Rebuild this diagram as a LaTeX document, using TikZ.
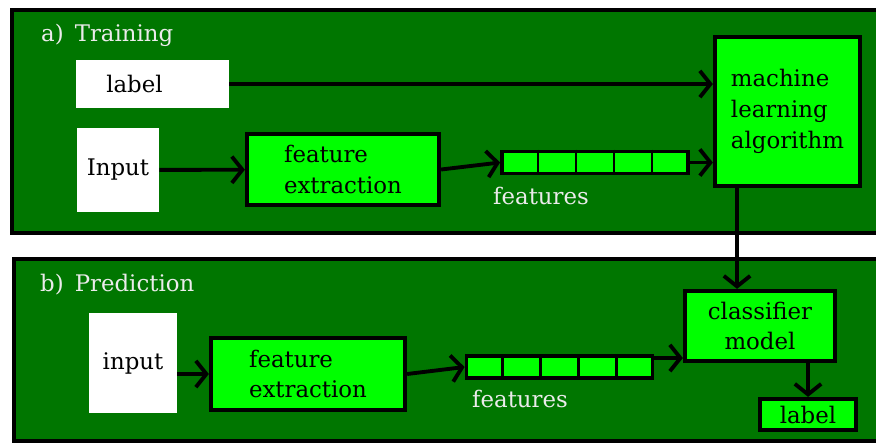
\documentclass[tikz,border=0pt]{standalone}
\usepackage{fontspec}
\setmainfont{DejaVu Serif}
\usetikzlibrary{arrows.meta,calc}

\definecolor{panelgreen}{RGB}{0,118,0}
\definecolor{boxgreen}{RGB}{0,255,0}

\tikzset{
  panel/.style={draw=black, line width=2pt, fill=panelgreen},
  title/.style={text=white!92!black, anchor=west, font=\fontsize{13}{16}\selectfont},
  whitebox/.style={fill=white, inner sep=0pt, font=\fontsize{13}{16}\selectfont},
  greenbox/.style={draw=black, line width=2.4pt, fill=boxgreen, inner sep=0pt,
    font=\fontsize{13}{17.5}\selectfont},
  featbar/.style={draw=black, line width=2.2pt, fill=boxgreen, inner sep=0pt,
    minimum width=3.72cm, minimum height=0.44cm},
  cell/.style={line width=1.6pt},
  featname/.style={text=white!92!black, font=\fontsize{13}{16}\selectfont},
  arr/.style={-{Straight Barb[length=6pt,width=15pt]}, line width=2.2pt},
}

\begin{document}
\begin{tikzpicture}
  \useasboundingbox (0,0) rectangle (17.52,8.88);

% the two panels
  \draw [panel] (0.24,4.22) rectangle (17.8,8.68);
  \draw [panel] (0.28,0.06) rectangle (17.8,3.70);

% a) training
  \node [title] (titleA) at (0.7,8.18) {a)\, Training};
  \node [whitebox, minimum width=3.06cm, minimum height=0.96cm] (labelA) at (3.05,7.2) {label\hspace*{0.72cm}};
  \node [whitebox, minimum width=1.64cm, minimum height=1.68cm] (inputA) at (2.36,5.48) {Input};
  \node [greenbox, align=left, minimum width=3.84cm, minimum height=1.42cm] (extractA) at (6.86,5.49) {feature\\extraction};
  \node [featbar] (barA) at (11.9,5.63) {};
  \foreach \i in {1,...,4}
    \draw [cell] ($(barA.north west)!\i/5!(barA.north east)$) -- ($(barA.south west)!\i/5!(barA.south east)$);
  \node [featname] (featA) at (10.82,4.96) {features};
  \node [greenbox, align=left, minimum width=2.9cm, minimum height=2.98cm] (learn) at (15.75,6.65) {machine\\learning\\algorithm};

  \draw [arr] (labelA.east) -- (labelA.east -| learn.west);
  \draw [arr] (inputA) -- (extractA);
  \draw [arr] (extractA.east) -- (barA.west);
  \draw [arr] (barA.east) -- (barA.east -| learn.west);

% b) prediction
  \node [title] (titleB) at (0.68,3.18) {b)\, Prediction};
  \node [whitebox, minimum width=1.76cm, minimum height=2.0cm] (inputB) at (2.66,1.62) {input};
  \node [greenbox, align=left, minimum width=3.88cm, minimum height=1.44cm] (extractB) at (6.16,1.40) {feature\\extraction};
  \node [featbar] (barB) at (11.19,1.54) {};
  \foreach \i in {1,...,4}
    \draw [cell] ($(barB.north west)!\i/5!(barB.north east)$) -- ($(barB.south west)!\i/5!(barB.south east)$);
  \node [featname] (featB) at (10.4,0.9) {features};
  \node [greenbox, align=center, minimum width=3.0cm, minimum height=1.4cm] (classifier) at (15.2,2.36) {classifier\\model};
  \node [greenbox, minimum width=1.92cm, minimum height=0.62cm] (labelB) at (16.16,0.59) {label};

  \coordinate (drop) at ([xshift=-1.01cm]learn.south);
  \coordinate (barBout) at ([yshift=0.18cm]barB.east);

  \draw [arr] (inputB.east |- extractB) -- (extractB);
  \draw [arr] (extractB.east) -- (barB.west);
  \draw [arr] (barBout) -- (barBout -| classifier.west);
  \draw [arr] (drop) -- (drop |- classifier.north);
  \draw [arr] (labelB |- classifier.south) -- (labelB);

\end{tikzpicture}
\end{document}
